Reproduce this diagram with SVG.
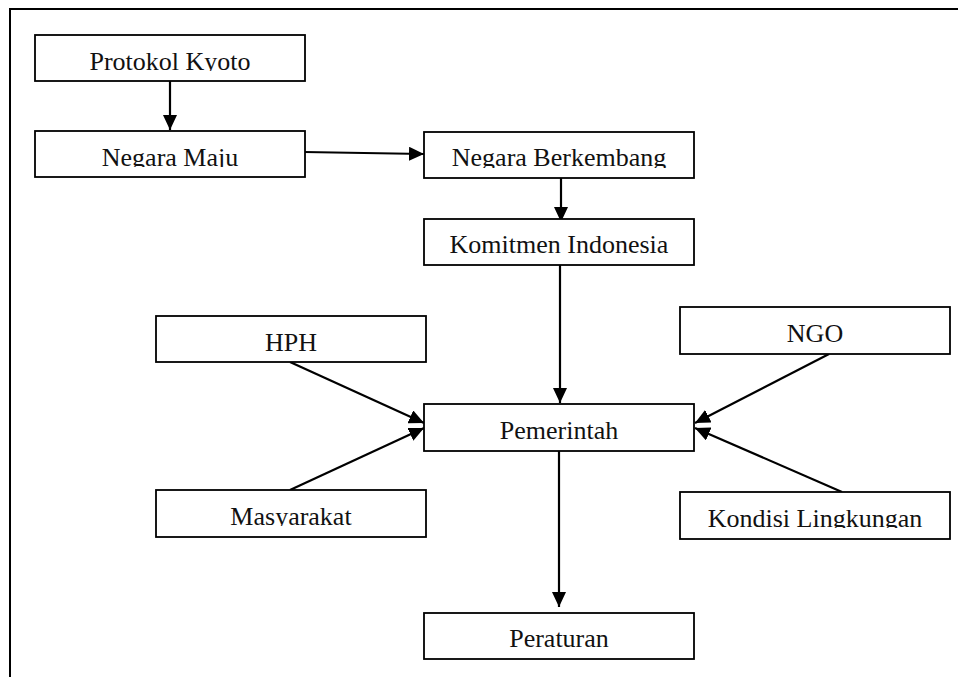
<svg xmlns="http://www.w3.org/2000/svg" width="958" height="677" viewBox="0 0 958 677">
<style>
.box{fill:#fff;stroke:#000;stroke-width:1.8}
.lbl{font-family:"Liberation Serif","Times New Roman",serif;font-size:26px;fill:#111;text-anchor:middle}
.con{stroke:#000;stroke-width:2.2;fill:none;marker-end:url(#ah)}
</style>
<defs>
<marker id="ah" markerUnits="userSpaceOnUse" markerWidth="16" markerHeight="14" refX="15" refY="7" orient="auto">
<path d="M0,0 L15,7 L0,14 Z" fill="#000"/>
</marker>
<clipPath id="cl"><rect x="0" y="0" width="270" height="36"/></clipPath>
</defs>
<rect x="0" y="0" width="958" height="677" fill="#fff"/>
<path d="M10,677 V9 H958" fill="none" stroke="#000" stroke-width="2"/>
<g id="connectors">
<line class="con" x1="170" y1="81" x2="170" y2="130"/>
<line class="con" x1="304" y1="152" x2="424" y2="154"/>
<line class="con" x1="561" y1="178" x2="561" y2="222"/>
<line class="con" x1="560" y1="265" x2="560" y2="403"/>
<line class="con" x1="290" y1="362" x2="424" y2="423"/>
<line class="con" x1="290" y1="490" x2="424" y2="428"/>
<line class="con" x1="829" y1="354" x2="695" y2="423"/>
<line class="con" x1="842" y1="492" x2="695" y2="428"/>
<line class="con" x1="559" y1="451" x2="559" y2="607"/>
</g>
<g id="protokol-kyoto" transform="translate(35,35)"><rect class="box" width="270" height="46"/><text class="lbl" x="135" y="35" clip-path="url(#cl)">Protokol Kyoto</text></g>
<g id="negara-maju" transform="translate(35,131)"><rect class="box" width="270" height="46"/><text class="lbl" x="135" y="35" clip-path="url(#cl)">Negara Maju</text></g>
<g id="negara-berkembang" transform="translate(424,132)"><rect class="box" width="270" height="46"/><text class="lbl" x="135" y="34" clip-path="url(#cl)">Negara Berkembang</text></g>
<g id="komitmen-indonesia" transform="translate(424,219)"><rect class="box" width="270" height="46"/><text class="lbl" x="135" y="34" clip-path="url(#cl)">Komitmen Indonesia</text></g>
<g id="hph" transform="translate(156,316)"><rect class="box" width="270" height="46"/><text class="lbl" x="135" y="35" clip-path="url(#cl)">HPH</text></g>
<g id="ngo" transform="translate(680,307)"><rect class="box" width="270" height="47"/><text class="lbl" x="135" y="35" clip-path="url(#cl)">NGO</text></g>
<g id="pemerintah" transform="translate(424,404)"><rect class="box" width="270" height="47"/><text class="lbl" x="135" y="35" clip-path="url(#cl)">Pemerintah</text></g>
<g id="masyarakat" transform="translate(156,490)"><rect class="box" width="270" height="47"/><text class="lbl" x="135" y="35" clip-path="url(#cl)">Masyarakat</text></g>
<g id="kondisi-lingkungan" transform="translate(680,492)"><rect class="box" width="270" height="47"/><text class="lbl" x="135" y="35" clip-path="url(#cl)">Kondisi Lingkungan</text></g>
<g id="peraturan" transform="translate(424,613)"><rect class="box" width="270" height="46"/><text class="lbl" x="135" y="34" clip-path="url(#cl)">Peraturan</text></g>
</svg>
